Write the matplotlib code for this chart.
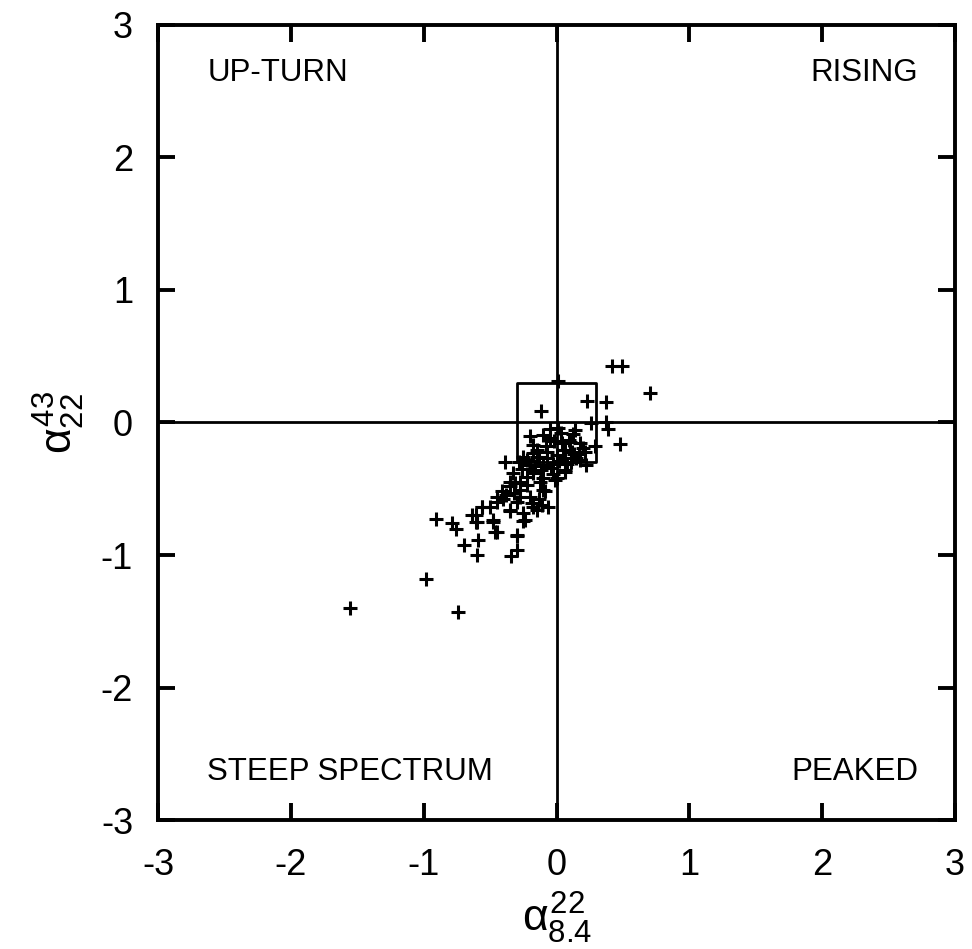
import numpy as np
import matplotlib.pyplot as plt

plt.rcParams['font.family'] = ['Liberation Sans', 'DejaVu Sans']
plt.rcParams['mathtext.fontset'] = 'custom'
plt.rcParams['mathtext.rm'] = 'Liberation Sans'
plt.rcParams['mathtext.it'] = 'Liberation Sans'
plt.rcParams['axes.unicode_minus'] = False

# spectral index pairs (alpha 8.4-22, alpha 22-43)
alpha_8_22 = [
    0.42, 0.49, 0.70, 0.01, 0.23, 0.37, -0.12, 0.26, 0.37, 0.39, 0.48, 0.29,
    -0.39, -0.985, -1.555, -0.745, -0.905, -0.79, -0.755, -0.64, -0.60, -0.56,
    -0.475, -0.45, -0.70, -0.59, -0.60, -0.295, -0.30, -0.34, -0.35, -0.25,
    0.14, 0.014, -0.10, -0.175, -0.05, 0.04, 0.09, 0.177, 0.215, 0.114,
    0.064, 0.15, 0.0, -0.074, -0.15, -0.25, -0.28, -0.20, -0.10, -0.025,
    0.064, 0.0, -0.10, -0.175, -0.325, -0.275, -0.35, -0.225, -0.10,
    -0.61, -0.61, -0.476, -0.463, -0.30, -0.563, -0.50, -0.45, -0.41,
    -0.35, -0.315, -0.275, -0.275, -0.35, -0.25, -0.237, -0.20, -0.187,
    -0.149, -0.11, -0.062, -0.087, -0.124, -0.175, -0.01, 0.064,
    -0.20, -0.05, 0.03, 0.12, 0.20, 0.10, -0.02, -0.15, -0.08, 0.05,
    0.17, -0.22, -0.13, 0.02, 0.08, -0.04, -0.16, -0.26, 0.11, 0.18,
    -0.07, -0.18, -0.12, -0.03, 0.22, -0.22, -0.32, -0.40, -0.45, -0.38,
    -0.30, -0.18, -0.13, 0.06, 0.13,
]
alpha_22_43 = [
    0.425, 0.425, 0.22, 0.31, 0.165, 0.155, 0.085, -0.006, 0.0, -0.05, -0.16, -0.18,
    -0.30, -1.18, -1.40, -1.43, -0.73, -0.76, -0.80, -0.70, -0.75, -0.635,
    -0.75, -0.83, -0.925, -0.89, -1.0, -0.857, -0.96, -1.01, -0.67, -0.74,
    -0.057, -0.044, -0.094, -0.17, -0.12, -0.157, -0.13, -0.157, -0.22, -0.22,
    -0.27, -0.27, -0.245, -0.22, -0.258, -0.258, -0.296, -0.32, -0.32, -0.31,
    -0.36, -0.42, -0.42, -0.38, -0.38, -0.447, -0.447, -0.47, -0.51,
    -0.70, -0.75, -0.736, -0.824, -0.85, -0.635, -0.635, -0.56, -0.52,
    -0.48, -0.46, -0.51, -0.56, -0.66, -0.685, -0.736, -0.56, -0.61,
    -0.66, -0.62, -0.635, -0.52, -0.447, -0.37, -0.434, -0.37,
    -0.10, -0.05, -0.08, -0.09, -0.19, -0.15, -0.14, -0.21, -0.18, -0.21,
    -0.24, -0.28, -0.26, -0.29, -0.31, -0.34, -0.33, -0.35, -0.30, -0.28,
    -0.27, -0.23, -0.36, -0.39, -0.32, -0.41, -0.53, -0.58, -0.60, -0.55,
    -0.60, -0.64, -0.58, -0.21, -0.24,
]

quad_labels = ['UP-TURN', 'RISING', 'STEEP SPECTRUM', 'PEAKED']
ticks = [-3, -2, -1, 0, 1, 2, 3]

fig = plt.figure(figsize=(9.72, 9.49), dpi=100)
ax = fig.add_axes([0.1626, 0.1359, 0.82, 0.8378])

ax.axhline(0, color='black', lw=2.0)
ax.axvline(0, color='black', lw=2.0)
ax.plot([-0.3, 0.3, 0.3, -0.3, -0.3], [-0.3, -0.3, 0.3, 0.3, -0.3],
        color='black', lw=2.0)

ax.plot(alpha_8_22, alpha_22_43, linestyle='none', marker='+', color='black',
        markersize=10, markeredgewidth=2.2)

ax.text(-2.63, 2.64, quad_labels[0], fontsize=22.5, ha='left', va='center')
ax.text(2.72, 2.64, quad_labels[1], fontsize=22.5, ha='right', va='center')
ax.text(-2.63, -2.64, quad_labels[2], fontsize=22.5, ha='left', va='center')
ax.text(2.72, -2.64, quad_labels[3], fontsize=22.5, ha='right', va='center')

ax.set_xlim(-3, 3)
ax.set_ylim(-3, 3)
ax.set_xticks(ticks)
ax.set_yticks(ticks)
ax.tick_params(direction='in', length=12, width=2.8, labelsize=26,
               top=True, right=True)
ax.tick_params(axis='x', pad=20)
ax.tick_params(axis='y', pad=18)
for s in ax.spines.values():
    s.set_linewidth(2.8)

ax.set_xlabel(r'$\alpha^{22}_{8.4}$', fontsize=32, labelpad=6)
ax.set_ylabel(r'$\alpha^{43}_{22}$', fontsize=32, labelpad=10)

fig.savefig('out.png', dpi=100)
